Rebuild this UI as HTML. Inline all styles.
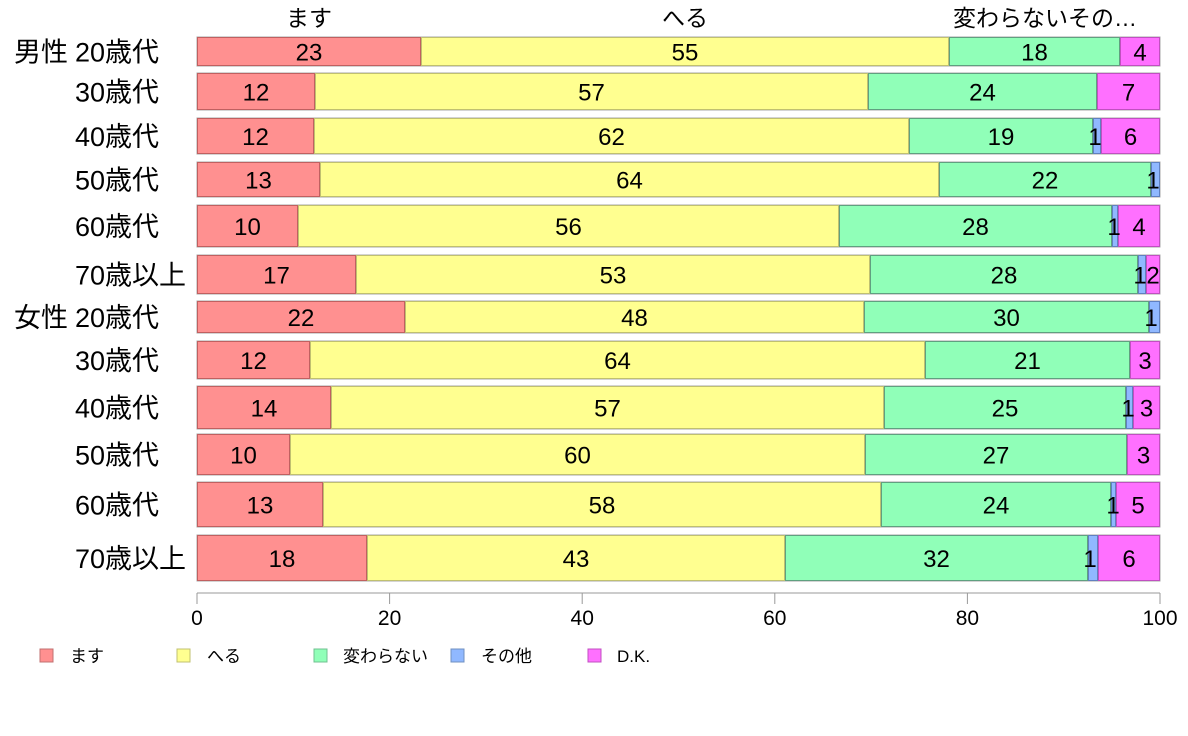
<!DOCTYPE html>
<html><head><meta charset="utf-8"><style>
body{margin:0;background:#fff;}
svg{display:block;font-family:"Liberation Sans","Noto Sans CJK JP",sans-serif;}
</style></head><body>
<svg width="1188" height="736" xmlns="http://www.w3.org/2000/svg">
<g font-size="23" text-anchor="middle" fill="#000">
<text x="309" y="26">ます</text>
<text x="685" y="26">へる</text>
<text x="1045" y="26">変わらないその…</text>
</g>
<g id="bars" font-size="24" text-anchor="middle"></g>
<g font-size="27" fill="#000" id="labels"></g>
<line x1="197" y1="593" x2="1160" y2="593" stroke="#999"/>
<g stroke="#999"><line x1="197" y1="593" x2="197" y2="604"/><line x1="389.6" y1="593" x2="389.6" y2="604"/><line x1="582.2" y1="593" x2="582.2" y2="604"/><line x1="774.8" y1="593" x2="774.8" y2="604"/><line x1="967.4" y1="593" x2="967.4" y2="604"/><line x1="1160" y1="593" x2="1160" y2="604"/></g>
<g font-size="21" text-anchor="middle"><text x="197" y="625">0</text><text x="389.6" y="625">20</text><text x="582.2" y="625">40</text><text x="774.8" y="625">60</text><text x="967.4" y="625">80</text><text x="1160" y="625">100</text></g>
<g font-size="17">
<rect x="40" y="649" width="13" height="13" fill="#ff9090" stroke="#c07070"/><text x="70" y="662">ます</text>
<rect x="177" y="649" width="13" height="13" fill="#ffff90" stroke="#c0c070"/><text x="207" y="662">へる</text>
<rect x="314" y="649" width="13" height="13" fill="#90ffb8" stroke="#70c090"/><text x="343" y="662">変わらない</text>
<rect x="451" y="649" width="13" height="13" fill="#90b8ff" stroke="#7090c0"/><text x="481" y="662">その他</text>
<rect x="588" y="649" width="13" height="13" fill="#ff70ff" stroke="#c050c0"/><text x="617" y="662">D.K.</text>
</g>
<script>
var rows=[
["男性","20歳代",37,66,[197,421,949,1120,1120,1160],[23,55,18,"",4]],
["","30歳代",73,110,[197,315,868,1097,1097,1160],[12,57,24,"",7]],
["","40歳代",118,154,[197,314,909,1093,1101,1160],[12,62,19,1,6]],
["","50歳代",162,197,[197,320,939,1151,1160,1160],[13,64,22,1,""]],
["","60歳代",205,247,[197,298,839,1112,1118,1160],[10,56,28,1,4]],
["","70歳以上",255,294,[197,356,870,1138,1146,1160],[17,53,28,1,2]],
["女性","20歳代",301,333,[197,405,864,1149,1160,1160],[22,48,30,1,""]],
["","30歳代",341,379,[197,310,925,1130,1130,1160],[12,64,21,"",3]],
["","40歳代",386,429,[197,331,884,1126,1133,1160],[14,57,25,1,3]],
["","50歳代",434,475,[197,290,865,1127,1127,1160],[10,60,27,"",3]],
["","60歳代",482,527,[197,323,881,1111,1116,1160],[13,58,24,1,5]],
["","70歳以上",535,581,[197,367,785,1088,1098,1160],[18,43,32,1,6]]];
var fills=["#ff9090","#ffff90","#90ffb8","#90b8ff","#ff70ff"];
var strokes=["#c06060","#c0c070","#60a080","#6080c0","#c050c0"];
var ns="http://www.w3.org/2000/svg",g=document.getElementById("bars"),lg=document.getElementById("labels");
rows.forEach(function(r){
 var y0=r[2],y1=r[3],xs=r[4],cy=(y0+y1)/2+9;
 var bg=document.createElementNS(ns,"rect");bg.setAttribute("x",197);bg.setAttribute("y",y0);bg.setAttribute("width",963);bg.setAttribute("height",y1-y0);bg.setAttribute("fill","none");bg.setAttribute("stroke","#aaa");g.appendChild(bg);
 for(var i=0;i<5;i++){var w=xs[i+1]-xs[i];if(w<=0)continue;
  var e=document.createElementNS(ns,"rect");e.setAttribute("x",xs[i]+0.5);e.setAttribute("y",y0+0.5);e.setAttribute("width",w-1);e.setAttribute("height",y1-y0-1);e.setAttribute("fill",fills[i]);e.setAttribute("stroke",strokes[i]);g.appendChild(e);}
 for(var i=0;i<5;i++){if(r[5][i]==="")continue;var w=xs[i+1]-xs[i];
  var t=document.createElementNS(ns,"text");var cx=(xs[i]+xs[i+1])/2;if(w<12)cx=xs[i]+2;t.setAttribute("x",cx);t.setAttribute("y",cy);t.textContent=r[5][i];g.appendChild(t);}
 var ly=(y0+y1)/2+10;
 if(r[0]){var a=document.createElementNS(ns,"text");a.setAttribute("x",14);a.setAttribute("y",ly);a.textContent=r[0];lg.appendChild(a);}
 var l=document.createElementNS(ns,"text");l.setAttribute("x",75);l.setAttribute("y",ly);l.textContent=r[1];lg.appendChild(l);
});
</script>
</svg>
</body></html>
